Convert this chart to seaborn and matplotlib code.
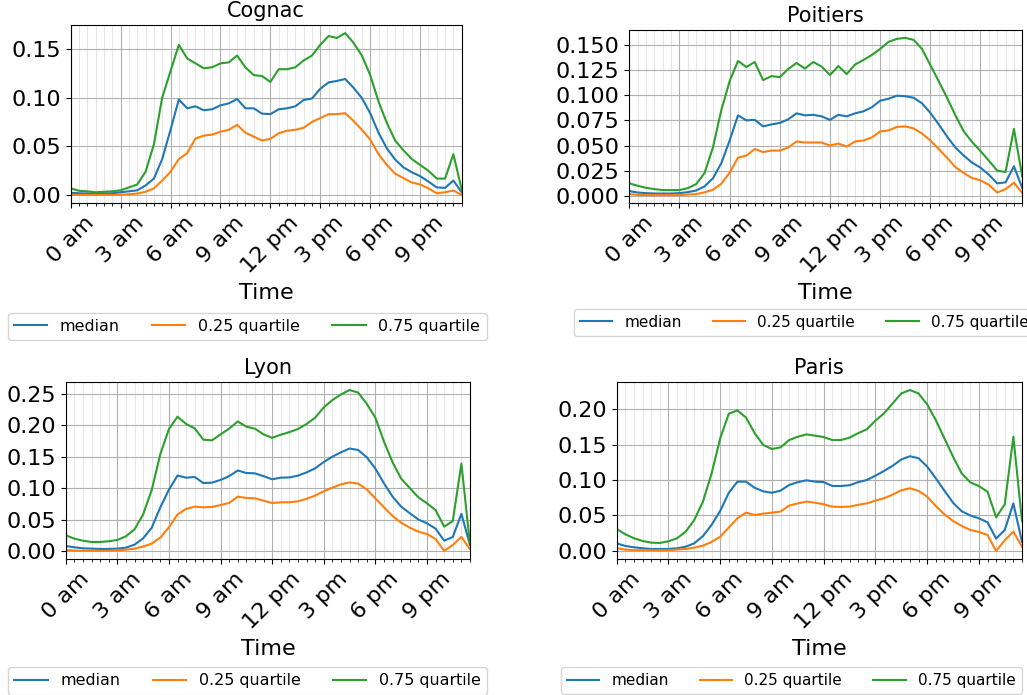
import numpy as np
import pandas as pd
import matplotlib
matplotlib.use("Agg")
import matplotlib.pyplot as plt
import seaborn as sns
from matplotlib.ticker import MultipleLocator

# ---------------- data ----------------
hours = np.arange(0, 24, 0.5)  # half-hour time grid, 0:00 .. 23:30
tick_labels = ["0 am", "3 am", "6 am", "9 am", "12 pm", "3 pm", "6 pm", "9 pm"]
series_names = ["median", "0.25 quartile", "0.75 quartile"]
cities = ["Cognac", "Poitiers", "Lyon", "Paris"]

cognac_median = [0.0024, 0.002, 0.0018, 0.0017, 0.0018, 0.002, 0.003, 0.004, 0.005, 0.010,
                 0.017, 0.037, 0.067, 0.098, 0.089, 0.091, 0.087, 0.088, 0.092, 0.094,
                 0.0985, 0.089, 0.089, 0.0835, 0.083, 0.088, 0.089, 0.091, 0.0975, 0.099,
                 0.109, 0.1155, 0.117, 0.119, 0.110, 0.0995, 0.084, 0.064, 0.048, 0.0365,
                 0.0285, 0.0235, 0.0195, 0.014, 0.008, 0.0075, 0.015, 0.003]
cognac_q25 = [0.0003, 0.0003, 0.0003, 0.0003, 0.0003, 0.0003, 0.0005, 0.001, 0.0017, 0.0035,
              0.007, 0.015, 0.024, 0.037, 0.043, 0.058, 0.061, 0.062, 0.065, 0.067,
              0.072, 0.064, 0.060, 0.056, 0.0577, 0.0635, 0.066, 0.067, 0.069, 0.075,
              0.079, 0.083, 0.083, 0.084, 0.076, 0.067, 0.057, 0.042, 0.031, 0.022,
              0.0175, 0.013, 0.011, 0.007, 0.002, 0.003, 0.0048, 0.0003]
cognac_q75 = [0.007, 0.0045, 0.004, 0.003, 0.0035, 0.004, 0.005, 0.008, 0.011, 0.024,
              0.052, 0.100, 0.127, 0.154, 0.140, 0.135, 0.130, 0.131, 0.135, 0.136,
              0.143, 0.131, 0.123, 0.122, 0.116, 0.129, 0.129, 0.131, 0.138, 0.143,
              0.154, 0.163, 0.161, 0.166, 0.156, 0.143, 0.123, 0.096, 0.074, 0.056,
              0.046, 0.037, 0.031, 0.025, 0.017, 0.017, 0.042, 0.006]

poitiers_median = [0.0047, 0.0033, 0.0027, 0.0023, 0.0023, 0.0023, 0.0027, 0.0037, 0.0053, 0.0094,
                   0.0174, 0.0324, 0.055, 0.080, 0.075, 0.0755, 0.069, 0.071, 0.0725, 0.076,
                   0.082, 0.080, 0.0805, 0.079, 0.0755, 0.0805, 0.079, 0.082, 0.084, 0.088,
                   0.0945, 0.0965, 0.0995, 0.099, 0.0975, 0.092, 0.0825, 0.071, 0.059, 0.048,
                   0.040, 0.033, 0.028, 0.021, 0.0124, 0.0134, 0.0294, 0.0077]
poitiers_q25 = [0.0017, 0.001, 0.0007, 0.0007, 0.0007, 0.0007, 0.0007, 0.0013, 0.0017, 0.0035,
                0.006, 0.012, 0.023, 0.038, 0.040, 0.0465, 0.0435, 0.045, 0.045, 0.048,
                0.054, 0.053, 0.053, 0.053, 0.050, 0.052, 0.049, 0.054, 0.055, 0.058,
                0.064, 0.065, 0.0685, 0.069, 0.067, 0.062, 0.055, 0.0465, 0.038, 0.0285,
                0.0227, 0.0177, 0.0154, 0.011, 0.0033, 0.0067, 0.013, 0.0027]
poitiers_q75 = [0.0124, 0.010, 0.008, 0.0067, 0.0057, 0.0057, 0.0057, 0.0077, 0.0117, 0.0227,
                0.048, 0.085, 0.114, 0.134, 0.128, 0.133, 0.115, 0.119, 0.118, 0.126,
                0.132, 0.1265, 0.133, 0.1285, 0.120, 0.129, 0.121, 0.1305, 0.135, 0.140,
                0.146, 0.153, 0.156, 0.157, 0.155, 0.146, 0.130, 0.114, 0.0975, 0.080,
                0.064, 0.0535, 0.0445, 0.035, 0.025, 0.0237, 0.0665, 0.019]

lyon_median = [0.008, 0.0058, 0.0042, 0.0037, 0.0032, 0.0032, 0.0037, 0.0053, 0.010, 0.020,
               0.037, 0.0694, 0.0975, 0.120, 0.1166, 0.1177, 0.108, 0.1087, 0.113, 0.119,
               0.128, 0.124, 0.1235, 0.119, 0.114, 0.1166, 0.117, 0.1198, 0.125, 0.1314,
               0.1415, 0.150, 0.157, 0.163, 0.1606, 0.149, 0.131, 0.1076, 0.0864, 0.0705,
               0.060, 0.050, 0.044, 0.0355, 0.0164, 0.0223, 0.059, 0.0095]
lyon_q25 = [0.0016, 0.0005, 0.0002, 0.0002, 0.0002, 0.0002, 0.001, 0.002, 0.0037, 0.007,
            0.0117, 0.0212, 0.0376, 0.058, 0.067, 0.0705, 0.0694, 0.070, 0.073, 0.0763,
            0.0864, 0.0843, 0.0837, 0.080, 0.0763, 0.0774, 0.0774, 0.079, 0.083, 0.088,
            0.095, 0.1007, 0.106, 0.109, 0.107, 0.098, 0.0837, 0.0694, 0.0556, 0.045,
            0.037, 0.0307, 0.027, 0.019, 0.0, 0.0095, 0.0223, 0.0027]
lyon_q75 = [0.025, 0.0196, 0.0164, 0.0143, 0.0143, 0.0154, 0.0175, 0.0233, 0.0344, 0.058,
            0.097, 0.154, 0.194, 0.2136, 0.202, 0.195, 0.177, 0.176, 0.1855, 0.1945,
            0.206, 0.1977, 0.1945, 0.1855, 0.180, 0.185, 0.189, 0.194, 0.202, 0.212,
            0.2284, 0.240, 0.249, 0.256, 0.252, 0.234, 0.212, 0.174, 0.141, 0.115,
            0.100, 0.0853, 0.0758, 0.065, 0.0387, 0.0477, 0.139, 0.010]

paris_median = [0.0108, 0.007, 0.0052, 0.0038, 0.0028, 0.0028, 0.0028, 0.0038, 0.006, 0.0108,
                0.021, 0.0366, 0.0564, 0.082, 0.0977, 0.0977, 0.089, 0.084, 0.082, 0.085,
                0.093, 0.097, 0.0996, 0.0977, 0.097, 0.0916, 0.0916, 0.0926, 0.097, 0.100,
                0.106, 0.1128, 0.120, 0.129, 0.1335, 0.1307, 0.119, 0.1025, 0.085, 0.068,
                0.056, 0.050, 0.046, 0.0404, 0.0174, 0.0296, 0.067, 0.013]
paris_q25 = [0.0038, 0.0019, 0.001, 0.001, 0.001, 0.001, 0.001, 0.002, 0.0028, 0.0047,
             0.0075, 0.0127, 0.020, 0.033, 0.046, 0.054, 0.0507, 0.0526, 0.054, 0.0555,
             0.064, 0.067, 0.0695, 0.068, 0.0658, 0.0625, 0.062, 0.0625, 0.065, 0.067,
             0.071, 0.0743, 0.0794, 0.0855, 0.0884, 0.0846, 0.0766, 0.0634, 0.0517, 0.0423,
             0.0353, 0.0296, 0.0268, 0.0226, 0.0, 0.015, 0.0273, 0.006]
paris_q75 = [0.031, 0.0235, 0.0179, 0.0141, 0.0117, 0.0113, 0.0136, 0.0179, 0.0272, 0.0437,
             0.0695, 0.109, 0.1587, 0.1935, 0.198, 0.188, 0.166, 0.1493, 0.1437, 0.146,
             0.1563, 0.161, 0.1643, 0.1625, 0.1606, 0.1563, 0.1563, 0.1597, 0.166, 0.1714,
             0.1836, 0.194, 0.208, 0.222, 0.2268, 0.222, 0.2066, 0.1845, 0.1587, 0.133,
             0.1094, 0.0967, 0.0915, 0.0836, 0.0474, 0.0657, 0.161, 0.042]

city_data = {
    "Cognac": [cognac_median, cognac_q25, cognac_q75],
    "Poitiers": [poitiers_median, poitiers_q25, poitiers_q75],
    "Lyon": [lyon_median, lyon_q25, lyon_q75],
    "Paris": [paris_median, paris_q25, paris_q75],
}
y_steps = {"Cognac": 0.05, "Poitiers": 0.025, "Lyon": 0.05, "Paris": 0.05}

# ---------------- layout ----------------
W, H = 1027, 695
colors = ["#1f77b4", "#ff7f0e", "#2ca02c"]
# axes boxes in pixels: left, top, right, bottom
axes_px = {
    "Cognac": (70.7, 25, 461.7, 203),
    "Poitiers": (629.3, 30, 1022.3, 203),
    "Lyon": (65.7, 382, 470, 559),
    "Paris": (616.7, 382, 1022, 559),
}
legend_px = {
    "Cognac": (7.5, 312.5),
    "Poitiers": (574, 308.5),
    "Lyon": (8, 667),
    "Paris": (561, 667),
}
legend_size = {"Cognac": 11.4, "Poitiers": 11, "Lyon": 11.4, "Paris": 11}

fig = plt.figure(figsize=(W / 100, H / 100), dpi=100)

for city in cities:
    l, t, r, b = axes_px[city]
    ax = fig.add_axes([l / W, 1 - b / H, (r - l) / W, (b - t) / H])
    df = pd.DataFrame({"hour": np.tile(hours, 3),
                       "value": np.concatenate(city_data[city]),
                       "series": np.repeat(series_names, len(hours))})
    sns.lineplot(data=df, x="hour", y="value", hue="series", hue_order=series_names,
                 palette=colors, ax=ax, linewidth=1.5, legend=False)
    ax.set_xlim(hours[0], hours[-1])
    ax.set_xticks(np.arange(0, 24, 3))
    ax.xaxis.set_minor_locator(MultipleLocator(0.5))
    ax.set_xticklabels(tick_labels, rotation=45, fontsize=16)
    ax.yaxis.set_major_locator(MultipleLocator(y_steps[city]))
    ax.tick_params(axis="y", labelsize=16)
    ax.grid(which="major", color="#b0b0b0", linewidth=0.8)
    ax.grid(which="minor", axis="x", color="#b0b0b0", linewidth=0.8, alpha=0.3)
    ax.set_axisbelow(True)
    ax.set_title(city, fontsize=15)
    ax.set_xlabel("Time", fontsize=16)
    ax.set_ylabel("")
    lx, ly = legend_px[city]
    ax.legend(handles=ax.lines[:3], labels=series_names, ncol=3,
              fontsize=legend_size[city], handlelength=2.1, handletextpad=0.8,
              columnspacing=2.05,
              loc="upper left", bbox_to_anchor=(lx / W, 1 - ly / H),
              bbox_transform=fig.transFigure, borderaxespad=0)

fig.savefig("out.png", dpi=100)
